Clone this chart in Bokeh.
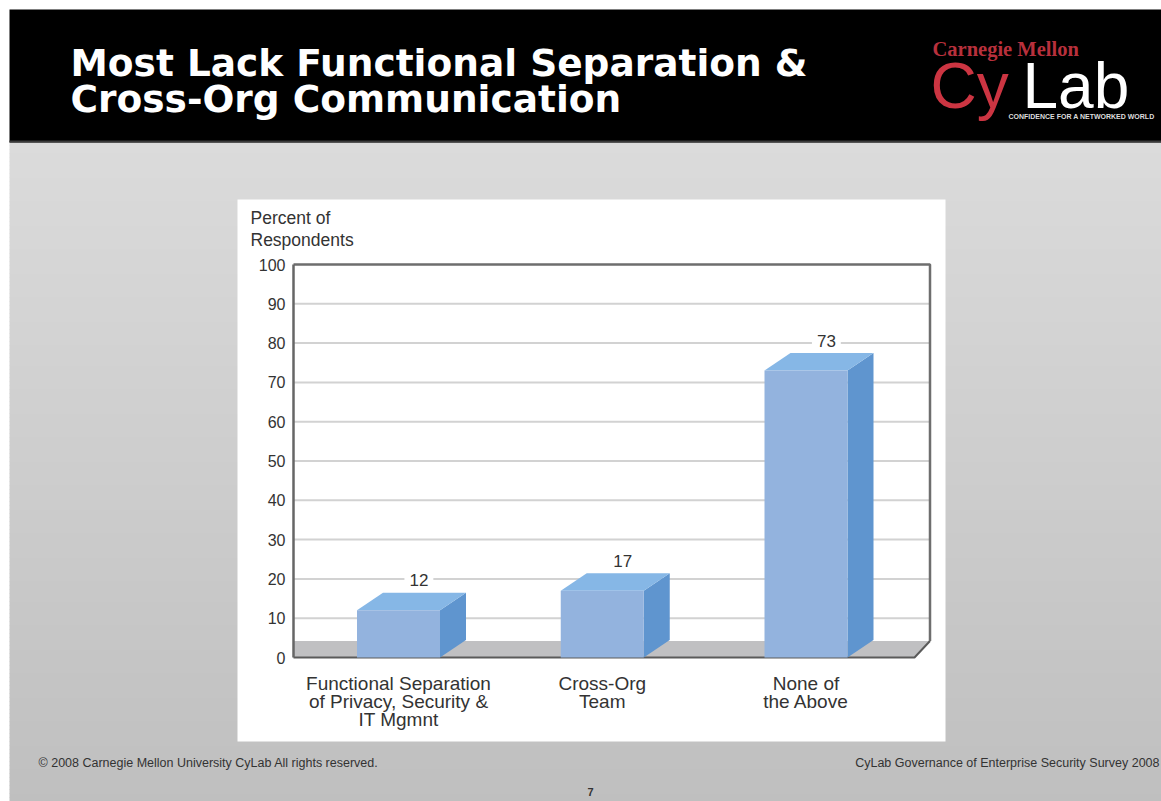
from bokeh.plotting import figure
from bokeh.models import Range1d
from bokeh.core.properties import value
from bokeh.embed import file_html
from bokeh.resources import INLINE

# ---------------- data ----------------
categories = [
    "Functional Separation\nof Privacy, Security &\nIT Mgmnt",
    "Cross-Org\nTeam",
    "None of\nthe Above",
]
values = [12, 17, 73]
y_ticks = [0, 10, 20, 30, 40, 50, 60, 70, 80, 90, 100]
y_tick_labels = [str(t) for t in y_ticks]
y_axis_title = ["Percent of", "Respondents"]
title_lines = ["Most Lack Functional Separation &", "Cross-Org Communication"]
footer_left = "\u00a9 2008 Carnegie Mellon University  CyLab  All rights reserved."
footer_right = "CyLab Governance of Enterprise Security Survey 2008"
page_number = "7"

# ---------------- geometry (screen mapping) ----------------
W, H = 1161, 801
X0, SX = 398.0, 203.75   # screen x of first category, pixels per category
Y0, SY = 657.0, 3.93     # screen y of value 0, pixels per percent


def X(px):
    return (px - X0) / SX


def Y(py):
    return (Y0 - py) / SY


FONT = value("Liberation Sans")

p = figure(width=W, height=H, x_range=Range1d(X(0), X(W)), y_range=Range1d(Y(H), Y(0)),
           x_axis_type=None, y_axis_type=None, output_backend="svg",
           toolbar_location=None, min_border=0)
p.grid.visible = False
p.outline_line_color = None
p.background_fill_color = "white"
p.border_fill_color = "white"

# ---------------- slide background ----------------
top_c = (219, 219, 219)
bot_c = (191, 191, 191)
band = 4
ys = list(range(141, H + band, band))
lefts, rights, tops, bots, cols = [], [], [], [], []
for k in range(len(ys) - 1):
    t = (ys[k] - 141) / (H - 141)
    c = tuple(int(round(top_c[j] + (bot_c[j] - top_c[j]) * t)) for j in range(3))
    lefts.append(X(9)); rights.append(X(W))
    tops.append(Y(ys[k])); bots.append(Y(ys[k + 1] + 0.5))
    cols.append("#%02x%02x%02x" % c)
p.quad(left=lefts, right=rights, top=tops, bottom=bots, fill_color=cols, line_color=None)

# header
p.quad(left=[X(9)], right=[X(W)], top=[Y(9)], bottom=[Y(142)], fill_color="black", line_color=None)
p.segment(x0=[X(9)], y0=[Y(141)], x1=[X(W)], y1=[Y(141)], line_color="#3a3a3a", line_width=2)

# chart panel
p.quad(left=[X(237)], right=[X(945)], top=[Y(199)], bottom=[Y(741)], fill_color="white", line_color=None)

# ---------------- chart ----------------
x_left = X(293)
x_wall = X(929.5)
depth_y = 16.5 / SY
floor_front_right = X(914)

# gridlines
grid_vals = [t for t in y_ticks if 0 < t < 100]
p.segment(x0=[x_left] * len(grid_vals), y0=grid_vals, x1=[x_wall] * len(grid_vals), y1=grid_vals,
          line_color="#d2d2d2", line_width=2)

# floor
p.patch(x=[x_left, floor_front_right, x_wall, x_left], y=[0, 0, depth_y, depth_y],
        fill_color="#c0c0c2", line_color=None)
p.line(x=[x_left, floor_front_right, x_wall], y=[0, 0, depth_y], line_color="#5a5a5a", line_width=2)

# wall border
p.line(x=[x_left, x_wall, x_wall], y=[y_ticks[-1], y_ticks[-1], depth_y], line_color="#6e6e6e", line_width=2.5)
p.segment(x0=[x_left], y0=[0], x1=[x_left], y1=[y_ticks[-1]], line_color="#666666", line_width=2.5)

# 3D bars
bw = 83 / SX
dx = 26 / SX
dy = 17.5 / SY
xs = list(range(len(values)))
side_x, side_y, top_x, top_y = [], [], [], []
for i, v in zip(xs, values):
    r = i + bw / 2
    l = i - bw / 2
    side_x.append([r, r + dx, r + dx, r])
    side_y.append([0, dy, v + dy, v])
    top_x.append([l, r, r + dx, l + dx])
    top_y.append([v, v, v + dy, v + dy])
p.patches(xs=side_x, ys=side_y, fill_color="#5f95cf", line_color=None)
p.patches(xs=top_x, ys=top_y, fill_color="#86b7e6", line_color=None)
p.quad(left=[i - bw / 2 for i in xs], right=[i + bw / 2 for i in xs], bottom=[0] * len(xs), top=values,
       fill_color="#93b3de", line_color=None)

# value labels
p.text(x=[i + 0.1 for i in xs], y=[v + 7.6 for v in values], text=[str(v) for v in values],
       text_font=FONT, text_font_size="17px", text_color="#333333", text_align="center",
       text_baseline="middle", background_fill_color="white", padding=5)

# y tick labels
p.text(x=[X(285)] * len(y_ticks), y=y_ticks, text=y_tick_labels, text_font=FONT, text_font_size="16px",
       text_color="#333333", text_align="right", text_baseline="middle")

# y axis title
p.text(x=[X(250)] * 2, y=[Y(217), Y(239)], text=y_axis_title, text_font=FONT, text_font_size="17.5px",
       text_color="#333333", text_align="left", text_baseline="middle")

# category labels
cx, cy, ct = [], [], []
for i, c in enumerate(categories):
    for k, line in enumerate(c.split("\n")):
        cx.append(i)
        cy.append(Y(683 + 18 * k))
        ct.append(line)
p.text(x=cx, y=cy, text=ct, text_font=FONT, text_font_size="19px", text_color="#333333",
       text_align="center", text_baseline="middle")

# ---------------- header texts ----------------
p.text(x=[X(70)] * 2, y=[Y(62), Y(98)], text=title_lines, text_font=value("DejaVu Sans"),
       text_font_style="bold", text_font_size="37.5px", text_color="white", text_align="left",
       text_baseline="middle")

p.text(x=[X(932)], y=[Y(48)], text=["Carnegie Mellon"], text_font=value("Liberation Serif"),
       text_font_style="bold", text_font_size="20.5px", text_color="#b8303c", text_align="left",
       text_baseline="middle")
p.text(x=[X(930)], y=[Y(85)], text=["Cy"], text_font=FONT, text_font_size="64px",
       text_color="#cc3542", text_align="left", text_baseline="middle")
p.text(x=[X(1022)], y=[Y(85)], text=["Lab"], text_font=FONT, text_font_size="64px",
       text_color="white", text_align="left", text_baseline="middle")
p.text(x=[X(1008)], y=[Y(116)], text=["CONFIDENCE FOR A NETWORKED WORLD"], text_font=FONT,
       text_font_style="bold", text_font_size="7px", text_color="#dddddd", text_align="left",
       text_baseline="middle")

# ---------------- footer ----------------
p.text(x=[X(38)], y=[Y(762)], text=[footer_left], text_font=FONT, text_font_size="12.5px",
       text_color="#333333", text_align="left", text_baseline="middle")
p.text(x=[X(1159)], y=[Y(762)], text=[footer_right], text_font=FONT, text_font_size="12.5px",
       text_color="#333333", text_align="right", text_baseline="middle")
p.text(x=[X(590)], y=[Y(791)], text=[page_number], text_font=FONT, text_font_style="bold",
       text_font_size="11px", text_color="#333333", text_align="center", text_baseline="middle")

open("out.html", "w").write(file_html(p, INLINE))
